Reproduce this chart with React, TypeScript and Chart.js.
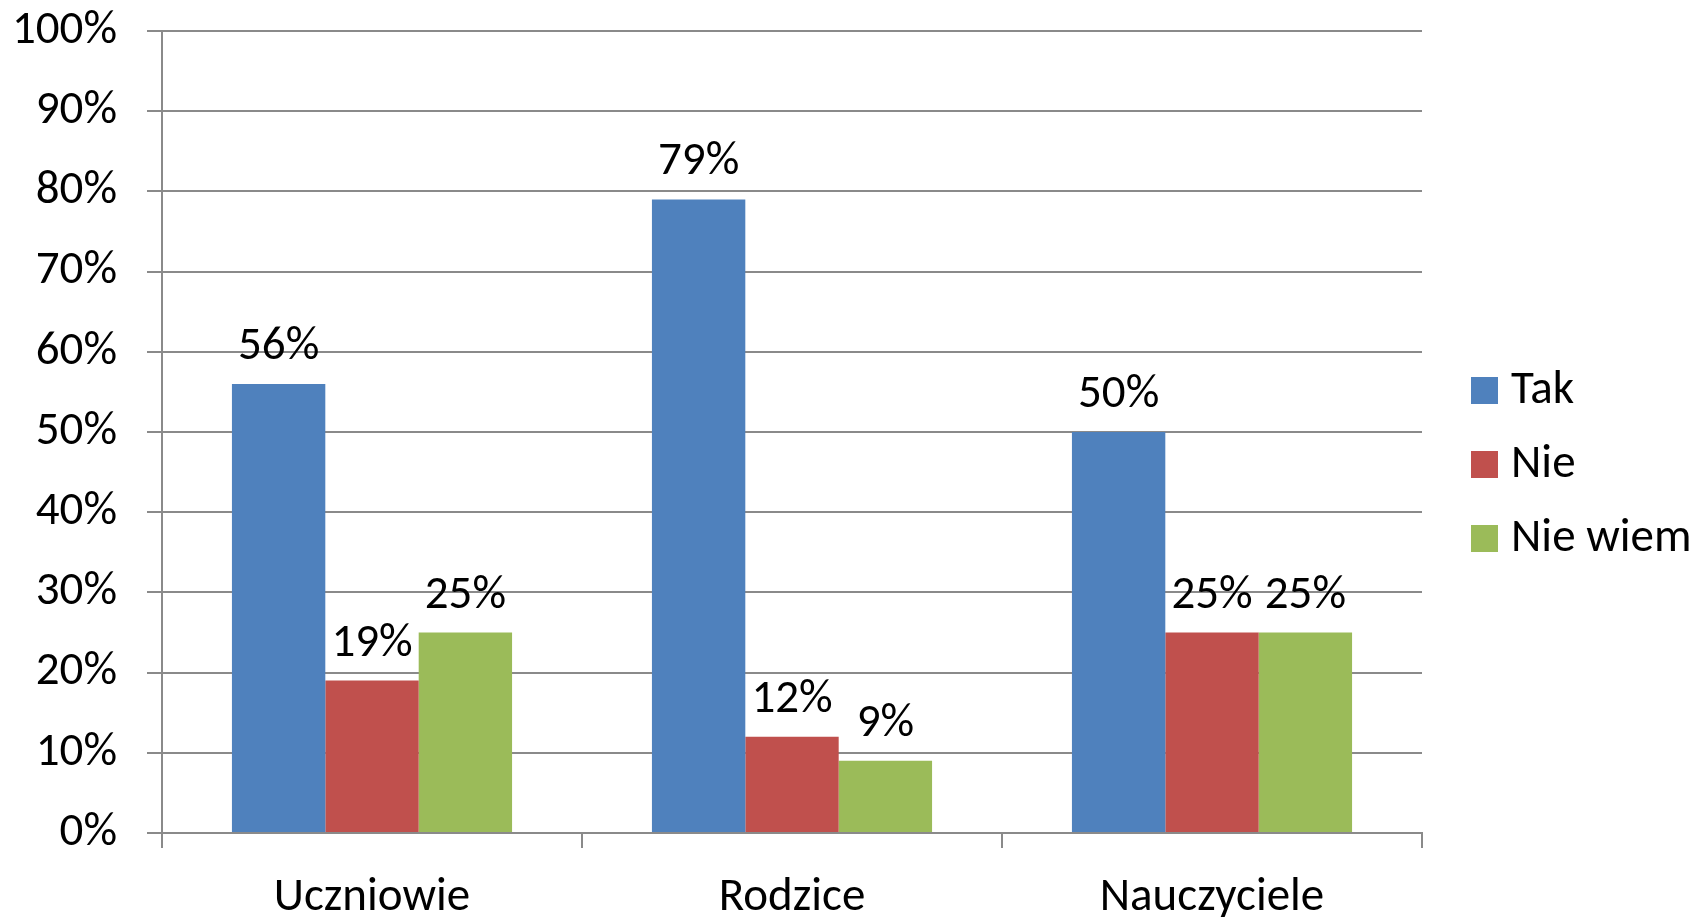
import React, { useEffect, useRef } from "react";
import { Chart, registerables } from "chart.js";

Chart.register(...registerables);

const categories = ["Uczniowie", "Rodzice", "Nauczyciele"];
const seriesNames = ["Tak", "Nie", "Nie wiem"];
const takValues = [56, 79, 50];
const nieValues = [19, 12, 25];
const nieWiemValues = [25, 9, 25];
const seriesColors = ["#4F81BD", "#C0504D", "#9BBB59"];
const yTicks = [0, 10, 20, 30, 40, 50, 60, 70, 80, 90, 100];

const FONT = "Carlito, Lato, 'Open Sans', sans-serif";
const FONT_SIZE = 47;
const GRID = "#8a8a8a";

const dataLabelPlugin = {
  id: "dataLabels",
  afterDatasetsDraw(chart: any) {
    const ctx = chart.ctx;
    ctx.save();
    ctx.font = `${FONT_SIZE}px ${FONT}`;
    ctx.fillStyle = "#000";
    ctx.textAlign = "center";
    ctx.textBaseline = "alphabetic";
    chart.data.datasets.forEach((ds: any, i: number) => {
      const meta = chart.getDatasetMeta(i);
      meta.data.forEach((el: any, j: number) => {
        ctx.fillText(`${ds.data[j]}%`, el.x, el.y - 25);
      });
    });
    ctx.restore();
  },
};

const legendPlugin = {
  id: "customLegend",
  afterDraw(chart: any) {
    const ctx = chart.ctx;
    const area = chart.chartArea;
    const box = 27;
    const spacing = 74;
    const x = area.right + 49;
    const midY = chart.height / 2 + 6;
    const n = chart.data.datasets.length;
    ctx.save();
    ctx.font = `${FONT_SIZE}px ${FONT}`;
    ctx.textBaseline = "middle";
    ctx.textAlign = "left";
    chart.data.datasets.forEach((ds: any, i: number) => {
      const cy = midY + (i - (n - 1) / 2) * spacing;
      ctx.fillStyle = ds.backgroundColor;
      ctx.fillRect(x, cy - box / 2, box, box);
      ctx.fillStyle = "#000";
      ctx.fillText(ds.label, x + box + 13, cy + 1);
    });
    ctx.restore();
  },
};

export default function App() {
  const ref = useRef<HTMLCanvasElement | null>(null);

  useEffect(() => {
    if (!ref.current) return;
    const seriesValues = [takValues, nieValues, nieWiemValues];
    const chart = new Chart(ref.current, {
      type: "bar",
      data: {
        labels: categories,
        datasets: seriesNames.map((name, i) => ({
          label: name,
          data: seriesValues[i],
          backgroundColor: seriesColors[i],
          borderWidth: 0,
          categoryPercentage: 0.667,
          barPercentage: 1,
        })),
      },
      options: {
        responsive: false,
        animation: false,
        layout: { padding: { top: 31, right: 276, left: 0, bottom: 0 } },
        plugins: {
          legend: { display: false },
          tooltip: { enabled: false },
        },
        scales: {
          x: {
            grid: {
              offset: true,
              drawOnChartArea: false,
              drawTicks: true,
              tickLength: 15,
              color: GRID,
              lineWidth: 2,
            },
            border: { color: GRID, width: 2 },
            ticks: {
              color: "#000",
              font: { family: FONT, size: FONT_SIZE },
              padding: 22,
              maxRotation: 0,
            },
            afterFit(scale: any) {
              scale.height = 84;
              scale.paddingLeft = 0;
              scale.paddingRight = 0;
            },
          },
          y: {
            min: 0,
            max: 100,
            afterBuildTicks(scale: any) {
              scale.ticks = yTicks.map((v) => ({ value: v }));
            },
            grid: {
              color: GRID,
              lineWidth: 2,
              drawTicks: true,
              tickLength: 15,
            },
            border: { color: GRID, width: 2 },
            ticks: {
              color: "#000",
              font: { family: FONT, size: FONT_SIZE },
              padding: 30,
              callback: (v: any) => `${v}%`,
            },
            afterFit(scale: any) {
              scale.width = 162;
              scale.paddingTop = 0;
              scale.paddingBottom = 0;
            },
          },
        },
      },
      plugins: [dataLabelPlugin, legendPlugin],
    });
    return () => chart.destroy();
  }, []);

  return (
    <div style={{ position: "absolute", left: 0, top: 0, width: 1698, height: 917, background: "#fff" }}>
      <canvas ref={ref} width={1698} height={917} />
    </div>
  );
}
